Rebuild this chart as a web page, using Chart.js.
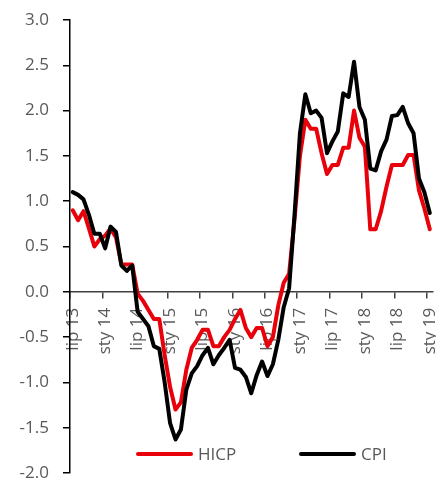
<!DOCTYPE html>
<html>
<head>
<meta charset="utf-8">
<script src="https://cdn.jsdelivr.net/npm/chart.js@4.4.0/dist/chart.umd.min.js"></script>
<style>
html, body { margin: 0; padding: 0; overflow: hidden; background: #fff; }
</style>
</head>
<body>
<canvas id="chart" width="436" height="481"></canvas>
<script>
// months run lip 13 .. sty 19
const monthNames = ['sty', 'lut', 'mar', 'kwi', 'maj', 'cze', 'lip', 'sie', 'wrz', 'paź', 'lis', 'gru'];
const firstMonth = 6, firstYear = 13, monthCount = 67;

const hicp = [
  0.9, 0.79, 0.89, 0.7, 0.5, 0.58, 0.62, 0.7, 0.6, 0.3, 0.3, 0.3,
  -0.02, -0.1, -0.2, -0.3, -0.3, -0.7, -1.05, -1.3, -1.22, -0.86, -0.62, -0.53,
  -0.42, -0.42, -0.6, -0.6, -0.5, -0.42, -0.3, -0.2, -0.4, -0.5, -0.4, -0.4,
  -0.6, -0.5, -0.15, 0.1, 0.2, 0.8, 1.5, 1.9, 1.8, 1.8, 1.53, 1.3,
  1.4, 1.4, 1.59, 1.59, 2.0, 1.7, 1.6, 0.69, 0.69, 0.89, 1.16, 1.4,
  1.4, 1.4, 1.51, 1.51, 1.12, 0.92, 0.69
];
const cpi = [
  1.1, 1.07, 1.02, 0.85, 0.64, 0.64, 0.48, 0.72, 0.66, 0.29, 0.23, 0.29,
  -0.22, -0.3, -0.38, -0.6, -0.63, -1.0, -1.45, -1.63, -1.52, -1.08, -0.9, -0.82,
  -0.7, -0.62, -0.8, -0.7, -0.62, -0.53, -0.84, -0.86, -0.94, -1.12, -0.92, -0.77,
  -0.93, -0.8, -0.53, -0.17, 0.04, 0.85, 1.75, 2.18, 1.97, 2.0, 1.92, 1.53,
  1.66, 1.77, 2.19, 2.15, 2.54, 2.04, 1.9, 1.36, 1.34, 1.55, 1.68, 1.94,
  1.95, 2.04, 1.86, 1.75, 1.25, 1.1, 0.87
];
const seriesNames = ['HICP', 'CPI'];

const categories = [];
for (let i = 0; i < monthCount; i++) {
  const m = firstMonth + i;
  categories.push(monthNames[m % 12] + ' ' + (firstYear + Math.floor(m / 12)));
}

const textColor = '#595959';
const font = { family: 'Open Sans', size: 17 };

// legend sits inside the plot, near the bottom
const bottomLegend = {
  id: 'bottomLegend',
  afterDraw(chart) {
    const ctx = chart.ctx;
    const y = chart.chartArea.bottom - 19;
    let x = 138;
    ctx.save();
    ctx.font = '17px "Open Sans"';
    ctx.textBaseline = 'middle';
    chart.data.datasets.forEach((ds) => {
      ctx.strokeStyle = ds.borderColor;
      ctx.lineWidth = 4;
      ctx.lineCap = 'round';
      ctx.beginPath();
      ctx.moveTo(x, y);
      ctx.lineTo(x + 53, y);
      ctx.stroke();
      ctx.fillStyle = textColor;
      ctx.fillText(ds.label, x + 60, y + 1);
      x += 163;
    });
    ctx.restore();
  }
};

new Chart(document.getElementById('chart'), {
  type: 'line',
  data: {
    labels: categories,
    datasets: [
      { label: seriesNames[0], data: hicp, borderColor: '#e8000b', order: 1 },
      { label: seriesNames[1], data: cpi, borderColor: '#000000', order: 0 }
    ]
  },
  options: {
    responsive: false,
    animation: false,
    layout: { padding: { top: 20, bottom: 8, left: 0, right: 3.5 } },
    elements: {
      point: { radius: 0 },
      line: { borderWidth: 4, tension: 0, borderJoinStyle: 'round', borderCapStyle: 'round' }
    },
    plugins: { legend: { display: false }, tooltip: { enabled: false } },
    scales: {
      x: {
        position: { y: 0 },
        offset: true,
        grid: {
          offset: true,
          drawOnChartArea: false,
          tickLength: 6,
          lineWidth: 1.5,
          color: (c) => c.index % 6 === 0 ? '#404040' : 'rgba(0,0,0,0)'
        },
        border: { color: '#404040', width: 1.5 },
        ticks: {
          autoSkip: false,
          minRotation: 90,
          maxRotation: 90,
          padding: 10,
          color: textColor,
          font: font,
          callback(v, i) { return i % 6 === 0 ? this.getLabelForValue(v) : ''; }
        },
        afterFit(s) { s.paddingLeft = 0; s.paddingRight = 0; }
      },
      y: {
        min: -2,
        max: 3,
        grid: { drawOnChartArea: false, tickLength: 7, lineWidth: 1.5, color: '#000' },
        border: { color: '#000', width: 1.5 },
        ticks: {
          stepSize: 0.5,
          padding: 14,
          color: textColor,
          font: font,
          callback: (v) => v.toFixed(1)
        },
        afterFit(s) { s.width = 70; s.paddingTop = 0; s.paddingBottom = 0; }
      }
    }
  },
  plugins: [bottomLegend]
});
</script>
</body>
</html>
